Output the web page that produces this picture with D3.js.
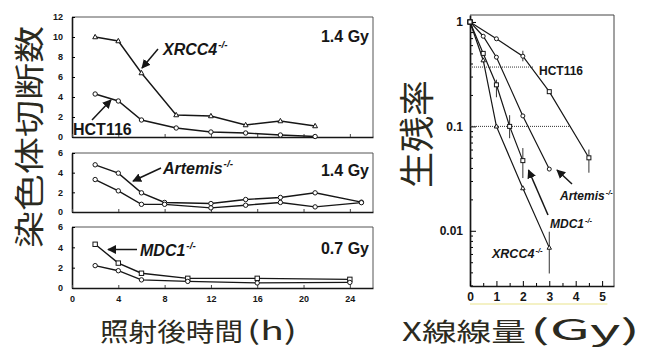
<!DOCTYPE html>
<html><head><meta charset="utf-8">
<script src="https://cdn.jsdelivr.net/npm/d3@7"></script>
<style>body{margin:0;background:#fff}svg{display:block}</style>
</head><body>
<svg id="c" width="667" height="356"></svg>
<script>
// ---------- Data: chromosome breaks (left panels) ----------
const hoursTop = [2, 4, 6, 9, 12, 15, 18, 21];
const xrcc4Breaks = [10, 9.6, 6.4, 2.2, 2.1, 1.2, 1.6, 1.1];
const hctTopBreaks = [4.3, 3.6, 1.7, 0.9, 0.5, 0.4, 0.2, 0.05];
const hoursMid = [2, 4, 6, 8, 12, 15, 18, 21, 25];
const artemisBreaks = [4.8, 3.95, 1.95, 0.97, 0.86, 1.27, 1.48, 1.95, 1.0];
const hctMidBreaks = [3.3, 2.15, 0.78, 0.78, 0.42, 0.69, 0.97, 0.52, 0.95];
const hoursBot = [2, 4, 6, 10, 16, 24];
const mdc1Breaks = [4.3, 2.45, 1.45, 0.95, 0.95, 0.85];
const hctBotBreaks = [2.2, 1.7, 0.8, 0.65, 0.5, 0.55];
const panelDoses = ["1.4 Gy", "1.4 Gy", "0.7 Gy"];
const topTicks = [0, 2, 4, 6, 8, 10, 12];
const smallTicks = [0, 2, 4, 6];
const hourTicks = [0, 4, 8, 12, 16, 20, 24];

// ---------- Data: survival (right panel) ----------
const doseHCT = [0, 1, 2, 3, 4.5];
const survHCT = [1, 0.69, 0.47, 0.215, 0.05];
const symHCT = ["square", "circle", "circle", "square", "square"];
const errHCT = [null, null, [0.42, 0.53], null, [0.036, 0.06]];
const doseArt = [0, 0.5, 1, 2, 3];
const survArt = [1, 0.73, 0.46, 0.126, 0.039];
const symArt = ["square", "circle", "circle", "circle", "circle"];
const errArt = [null, null, null, null, null];
const doseMDC = [0, 0.5, 1, 1.5, 2];
const survMDC = [1, 0.5, 0.25, 0.1, 0.047];
const symMDC = ["square", "square", "square", "square", "square"];
const errMDC = [null, null, [0.19, 0.28], [0.077, 0.128], [0.032, 0.062]];
const doseX = [0, 0.5, 1, 2, 3];
const survX = [1, 0.43, 0.1, 0.0256, 0.0069];
const symX = ["square", "triangle", "triangle", "triangle", "triangle"];
const errX = [null, null, null, null, [0.0039, 0.0098]];
const refLevels = [0.37, 0.1];
const refEnds = [2.4, 3.8];
const survTicks = [1, 0.1, 0.01];
const doseTicks = [0, 1, 2, 3, 4, 5];

const svg = d3.select("#c");
const INK = "#161616";
const LAB = "#2b2a20";
const ARIAL = "'Liberation Sans', Arial, sans-serif";
const CJK = "'Noto Sans CJK JP', sans-serif";

svg.append("defs").append("marker")
  .attr("id", "ah").attr("viewBox", "0 0 10 10").attr("refX", 9).attr("refY", 5)
  .attr("markerWidth", 9).attr("markerHeight", 9).attr("markerUnits", "userSpaceOnUse")
  .attr("orient", "auto")
  .append("path").attr("d", "M0,0 L10,5 L0,10 Z").attr("fill", INK);

function symbol(g, type, cx, cy, s) {
  let el;
  if (type === "circle") el = g.append("circle").attr("cx", cx).attr("cy", cy).attr("r", s * 0.5);
  else if (type === "square") el = g.append("rect").attr("x", cx - s / 2).attr("y", cy - s / 2).attr("width", s).attr("height", s);
  else el = g.append("path").attr("d", `M${cx},${cy - s * 0.6} L${cx + s * 0.55},${cy + s * 0.4} L${cx - s * 0.55},${cy + s * 0.4} Z`);
  el.attr("fill", "#fff").attr("stroke", INK).attr("stroke-width", 1);
}

// ---------- Left panels ----------
const xH = d3.scaleLinear().domain([0, 26]).range([72, 373]);
const panels = [
  { y: d3.scaleLinear().domain([0, 12]).range([137, 17]), ticks: topTicks,
    series: [[hoursTop, xrcc4Breaks, "triangle"], [hoursTop, hctTopBreaks, "circle"]], base: 42 },
  { y: d3.scaleLinear().domain([0, 6]).range([212, 153]), ticks: smallTicks,
    series: [[hoursMid, artemisBreaks, "circle"], [hoursMid, hctMidBreaks, "circle"]], base: 176 },
  { y: d3.scaleLinear().domain([0, 6]).range([288, 227]), ticks: smallTicks,
    series: [[hoursBot, mdc1Breaks, "square"], [hoursBot, hctBotBreaks, "circle"]], base: 254 }
];

panels.forEach((p, i) => {
  const g = svg.append("g");
  const [x0, x1] = xH.range();
  const [y0, y1] = p.y.range();
  g.append("line").attr("x1", x0).attr("x2", x1).attr("y1", y1).attr("y2", y1).attr("stroke", "#555").attr("stroke-width", 1);
  g.append("line").attr("x1", x1).attr("x2", x1).attr("y1", y1).attr("y2", y0).attr("stroke", "#555").attr("stroke-width", 1);
  const ya = g.append("g").attr("transform", `translate(${x0},0)`)
    .call(d3.axisLeft(p.y).tickValues(p.ticks).tickSizeInner(-3).tickSizeOuter(0).tickPadding(9).tickFormat(d3.format("d")));
  ya.select(".domain").attr("stroke", INK).attr("stroke-width", 1.6);
  ya.selectAll("text").attr("font-family", ARIAL).attr("font-weight", "bold").attr("font-size", 9).attr("fill", INK);
  const xa = g.append("g").attr("transform", `translate(0,${y0})`)
    .call(d3.axisBottom(xH).tickValues(hourTicks).tickSizeInner(-3).tickSizeOuter(0).tickPadding(8).tickFormat(d3.format("d")));
  xa.select(".domain").attr("stroke", INK).attr("stroke-width", 1.6);
  xa.selectAll("line").attr("stroke", "#444");
  xa.selectAll("text").attr("font-family", ARIAL).attr("font-weight", "bold").attr("font-size", 9).attr("fill", INK)
    .attr("opacity", i === 2 ? 1 : 0);
  const line = d3.line().x(d => xH(d[0])).y(d => p.y(d[1]));
  p.series.forEach(([hs, vs, sym]) => {
    const pts = hs.map((h, k) => [h, vs[k]]);
    g.append("path").attr("d", line(pts)).attr("fill", "none").attr("stroke", INK).attr("stroke-width", 1.4);
    pts.forEach(d => symbol(g, sym, xH(d[0]), p.y(d[1]), 4.4));
  });
  g.append("text").attr("x", 369).attr("y", p.base).attr("text-anchor", "end")
    .attr("font-family", ARIAL).attr("font-weight", "bold").attr("font-size", 16).attr("fill", INK).text(panelDoses[i]);
});

function label(x, y, main, sup, size, italic) {
  const t = svg.append("text").attr("x", x).attr("y", y).attr("font-family", ARIAL)
    .attr("font-weight", "bold").attr("font-size", size).attr("fill", INK)
    .attr("font-style", italic ? "italic" : "normal");
  t.append("tspan").text(main);
  if (sup) t.append("tspan").attr("font-size", size * 0.62).attr("dy", -size * 0.42).attr("dx", 1).text(sup);
}
function arrow(x1, y1, x2, y2) {
  svg.append("line").attr("x1", x1).attr("y1", y1).attr("x2", x2).attr("y2", y2)
    .attr("stroke", INK).attr("stroke-width", 1.5).attr("marker-end", "url(#ah)");
}
label(163, 55, "XRCC4", "-/-", 16, true);
arrow(158, 49, 142, 68);
label(73, 135, "HCT116", null, 16, false);
arrow(92, 120, 111, 100);
label(163, 174, "Artemis", "-/-", 16, true);
arrow(161, 168, 133, 181);
label(140, 256, "MDC1", "-/-", 16, true);
arrow(137, 249.5, 108, 249.5);

// ---------- Right panel: survival ----------
const xD = d3.scaleLinear().domain([0, 5.45]).range([470, 614]);
const yS = d3.scaleLog().domain([0.00296, 1.166]).range([286, 15]);
const gr = svg.append("g");
gr.append("line").attr("x1", 470).attr("x2", 614).attr("y1", yS.range()[1]).attr("y2", yS.range()[1]).attr("stroke", "#444");
gr.append("line").attr("x1", 614).attr("x2", 614).attr("y1", yS.range()[1]).attr("y2", yS.range()[0]).attr("stroke", "#444");
gr.append("line").attr("x1", xD(0)).attr("x2", xD(5.2)).attr("y1", 304).attr("y2", 304).attr("stroke", "#f1ecb2").attr("stroke-width", 1.5);

const minor = [];
[0.001, 0.01, 0.1].forEach(dec => { for (let m = 2; m <= 9; m++) { const v = dec * m; if (v >= 0.00296 && v <= 1.166) minor.push(v); } });
const yam = gr.append("g").attr("transform", `translate(470,0)`)
  .call(d3.axisLeft(yS).tickValues(minor).tickSizeInner(-3).tickSizeOuter(0).tickFormat(""));
yam.select(".domain").remove();
const ya = gr.append("g").attr("transform", `translate(470,0)`)
  .call(d3.axisLeft(yS).tickValues(survTicks).tickSizeInner(-6).tickSizeOuter(0).tickPadding(7).tickFormat(d => String(d)));
ya.select(".domain").attr("stroke", INK).attr("stroke-width", 1.7);
ya.selectAll("text").attr("font-family", ARIAL).attr("font-weight", "bold").attr("font-size", 12).attr("fill", INK);
const xam = gr.append("g").attr("transform", `translate(0,286)`)
  .call(d3.axisBottom(xD).tickValues([0.5, 1.5, 2.5, 3.5, 4.5]).tickSizeInner(-3).tickSizeOuter(0).tickFormat(""));
xam.select(".domain").remove();
const xa = gr.append("g").attr("transform", `translate(0,286)`)
  .call(d3.axisBottom(xD).tickValues(doseTicks).tickSizeInner(-5).tickSizeOuter(0).tickPadding(6).tickFormat(d3.format("d")));
xa.select(".domain").attr("stroke", INK).attr("stroke-width", 1.7);
xa.selectAll("text").attr("font-family", ARIAL).attr("font-weight", "bold").attr("font-size", 12).attr("fill", INK);

refLevels.forEach((lv, i) => {
  gr.append("line").attr("x1", xD(0)).attr("x2", xD(refEnds[i])).attr("y1", yS(lv)).attr("y2", yS(lv))
    .attr("stroke", "#333").attr("stroke-width", 1).attr("stroke-dasharray", "1,1");
});

const survSeries = [
  [doseHCT, survHCT, symHCT, errHCT], [doseArt, survArt, symArt, errArt],
  [doseMDC, survMDC, symMDC, errMDC], [doseX, survX, symX, errX]
];
const sLine = d3.line().x(d => xD(d[0])).y(d => yS(d[1]));
survSeries.forEach(([ds, vs, sy, er]) => {
  const pts = ds.map((d, k) => [d, vs[k]]);
  gr.append("path").attr("d", sLine(pts)).attr("fill", "none").attr("stroke", INK).attr("stroke-width", 1.2);
  er.forEach((e, k) => {
    if (!e) return;
    gr.append("line").attr("x1", xD(ds[k])).attr("x2", xD(ds[k])).attr("y1", yS(e[0])).attr("y2", yS(e[1]))
      .attr("stroke", "#333").attr("stroke-width", 1);
  });
});
survSeries.forEach(([ds, vs, sy]) => {
  ds.forEach((d, k) => symbol(gr, sy[k], xD(d), yS(vs[k]), 4));
});

label(539, 75, "HCT116", null, 12, false);
label(560, 200, "Artemis", "-/-", 12, true);
arrow(572, 184, 557, 170);
label(550, 228, "MDC1", "-/-", 12, true);
arrow(548, 215, 528.5, 170);
label(492, 258, "XRCC4", "-/-", 12.5, true);

// ---------- CJK axis titles ----------
svg.append("text").attr("transform", "translate(27,137) rotate(-90)")
  .attr("text-anchor", "middle").attr("dominant-baseline", "central")
  .attr("font-family", CJK).attr("font-size", 30).attr("fill", LAB)
  .attr("textLength", 222).attr("lengthAdjust", "spacingAndGlyphs").text("染色体切断数");
svg.append("text").attr("transform", "translate(414,134) rotate(-90)")
  .attr("text-anchor", "middle").attr("dominant-baseline", "central")
  .attr("font-family", CJK).attr("font-size", 35).attr("fill", LAB)
  .attr("textLength", 108).attr("lengthAdjust", "spacingAndGlyphs").text("生残率");
svg.append("text").attr("x", 100).attr("y", 341)
  .attr("font-family", CJK).attr("font-size", 25).attr("fill", LAB)
  .attr("textLength", 143).attr("lengthAdjust", "spacingAndGlyphs").text("照射後時間");
svg.append("text").attr("x", 247).attr("y", 340)
  .attr("font-family", CJK).attr("font-size", 26).attr("fill", LAB)
  .attr("textLength", 50).attr("lengthAdjust", "spacingAndGlyphs").text("(h)");
svg.append("text").attr("x", 402).attr("y", 341)
  .attr("font-family", CJK).attr("font-size", 25).attr("fill", LAB)
  .attr("textLength", 124).attr("lengthAdjust", "spacingAndGlyphs").text("X線線量");
svg.append("text").attr("x", 530).attr("y", 340)
  .attr("font-family", CJK).attr("font-size", 28).attr("fill", LAB)
  .attr("textLength", 110).attr("lengthAdjust", "spacingAndGlyphs").text("(Gy)");
</script>
</body></html>
